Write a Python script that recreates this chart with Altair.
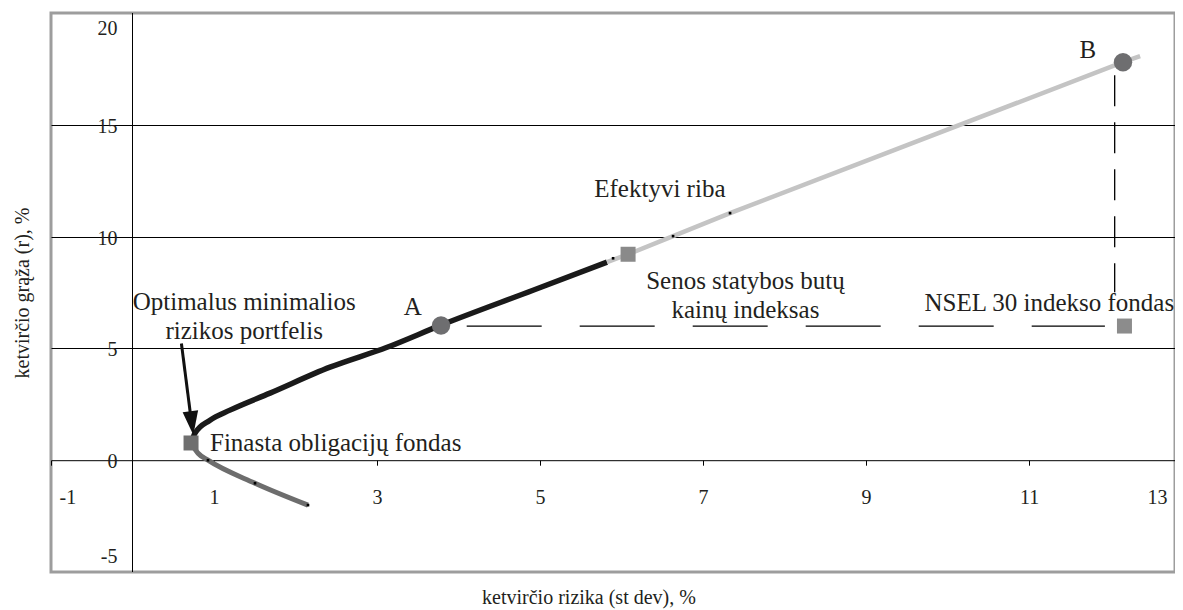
import altair as alt
import pandas as pd

FONT = "Liberation Serif"
TXT = "#231f20"

# ---- data ----
# efficient frontier (black part, from Finasta to Senos statybos)
front_x = [0.718, 0.767, 0.951, 1.196, 1.687, 2.423, 3.123, 3.785, 4.914, 5.822]
front_y = [0.76, 1.21, 1.79, 2.24, 3.00, 4.16, 5.05, 6.04, 7.60, 8.86]
# lower (inefficient) branch
low_x = [0.718, 0.804, 0.926, 1.503, 2.153]
low_y = [0.76, 0.31, 0.00, -1.03, -2.01]
low_mark_x = [0.926, 1.503, 2.153]
low_mark_y = [0.00, -1.03, -2.01]
# extension (light gray) towards B
ext_x = [5.822, 6.08, 6.632, 7.331, 12.152, 12.362]
ext_y = [8.86, 9.21, 10.02, 11.05, 17.80, 18.07]
ext_mark_x = [5.896, 6.632, 7.331]
ext_mark_y = [9.03, 10.02, 11.05]

# portfolios A and B
circ_x = [3.785, 12.152]
circ_y = [6.02, 17.80]
# assets
sq_names = ["Finasta obligacijų fondas", "Senos statybos butų kainų indeksas", "NSEL 30 indekso fondas"]
sq_x = [0.718, 6.08, 12.17]
sq_y = [0.77, 9.21, 6.00]

# dashed reference lines
hdash_x, hdash_x2, hdash_y = [4.10], [11.93], [6.0]
vdash_x, vdash_y, vdash_y2 = [12.05], [17.22], [7.51]

# arrow to the minimum-risk portfolio
arrow_x, arrow_y, arrow_x2, arrow_y2 = [0.60], [5.22], [0.713], [2.0]
head_x, head_y = [0.728], [1.655]

# annotations
lab_c_text = ["Optimalus minimalios\nrizikos portfelis", "Efektyvi riba",
              "Senos statybos butų\nkainų indeksas", "A", "B"]
lab_c_x = [1.37, 6.47, 7.52, 3.44, 11.72]
lab_c_y = [7.07, 12.12, 8.0, 6.84, 18.34]
lab_l_text = ["Finasta obligacijų fondas"]
lab_l_x = [0.951]
lab_l_y = [0.76]
lab_r_text = ["NSEL 30 indekso fondas"]
lab_r_x = [12.78]
lab_r_y = [7.02]

# axes
X_MAX = 12.79
x_tick_vals = [-1, 1, 3, 5, 7, 9, 11, X_MAX]
y_tick_vals = [-5, 0, 5, 10, 15, 20]
y_tick_text = ["-5", "0", "5", "10", "15", "20"]
y_grid_vals = [5, 10, 15]

X_TITLE = "ketvirčio rizika (st dev), %"
Y_TITLE = "ketvirčio grąža (r), %"

# ---- chart ----
W, H = 1124, 559
xs = alt.Scale(domain=[-1, X_MAX], nice=False, zero=False)
ys = alt.Scale(domain=[-5, 20], nice=False, zero=False)

xaxis = alt.Axis(values=x_tick_vals,
                 labelExpr="datum.value > 12 ? '13' : '' + datum.value",
                 offset=-H * 5 / 25, tickSize=5, tickColor="black", tickWidth=1,
                 domainColor="black", domainWidth=1, grid=False,
                 labelPadding=22, labelFontSize=20, labelColor=TXT,
                 labelFlush=True, labelFlushOffset=-8, title=None)
yaxis = alt.Axis(values=y_grid_vals, grid=True, gridColor="black", gridWidth=1,
                 labels=False, ticks=False, domain=False, title=Y_TITLE,
                 titlePadding=19, titleFontSize=20, titleFontWeight="normal",
                 titleColor=TXT)


def X(f):
    return alt.X(f, type="quantitative", scale=xs, axis=xaxis)


def Y(f):
    return alt.Y(f, type="quantitative", scale=ys, axis=yaxis)


def df(**cols):
    return pd.DataFrame(cols)


yaxis_line = alt.Chart(df(x=[0.0], y=[-5.0], y2=[20.0])).mark_rule(
    color="black", strokeWidth=1).encode(x=X("x"), y=Y("y"), y2="y2")

front = alt.Chart(df(x=front_x, y=front_y, o=list(range(len(front_x))))).mark_line(
    color="#1a1a1a", strokeWidth=5.5, interpolate="monotone").encode(
    x=X("x"), y=Y("y"), order="o:Q")
low = alt.Chart(df(x=low_x, y=low_y, o=list(range(len(low_x))))).mark_line(
    color="#6d6d6d", strokeWidth=5, interpolate="monotone").encode(
    x=X("x"), y=Y("y"), order="o:Q")
ext = alt.Chart(df(x=ext_x, y=ext_y, o=list(range(len(ext_x))))).mark_line(
    color="#c4c4c4", strokeWidth=4.5).encode(
    x=X("x"), y=Y("y"), order="o:Q")

marks = alt.Chart(df(x=low_mark_x + ext_mark_x, y=low_mark_y + ext_mark_y)).mark_point(
    shape="square", size=7, filled=True, color="black", opacity=1).encode(
    x=X("x"), y=Y("y"))

hdash = alt.Chart(df(x=hdash_x, x2=hdash_x2, y=hdash_y)).mark_rule(
    color="black", strokeWidth=1.3, strokeDash=[75, 38]).encode(
    x=X("x"), x2="x2", y=Y("y"))
vdash = alt.Chart(df(x=vdash_x, y=vdash_y, y2=vdash_y2)).mark_rule(
    color="black", strokeWidth=1.3, strokeDash=[31, 16]).encode(
    x=X("x"), y=Y("y"), y2="y2")

arrow = alt.Chart(df(x=arrow_x, y=arrow_y, x2=arrow_x2, y2=arrow_y2)).mark_rule(
    color="#111111", strokeWidth=3).encode(x=X("x"), y=Y("y"), x2="x2", y2="y2")
head = alt.Chart(df(x=head_x, y=head_y)).mark_point(
    shape="M-0.65,-1L0.65,-1L0,1Z", size=576, filled=True, color="#111111",
    opacity=1, angle=353).encode(x=X("x"), y=Y("y"))

circles = alt.Chart(df(x=circ_x, y=circ_y)).mark_circle(
    size=340, color="#6e6e70", opacity=1).encode(x=X("x"), y=Y("y"))
squares = alt.Chart(df(name=sq_names, x=sq_x, y=sq_y)).mark_square(
    size=225, opacity=1).encode(
    x=X("x"), y=Y("y"),
    color=alt.Color("name:N", legend=None,
                    scale=alt.Scale(domain=sq_names, range=["#6f6f6f", "#8a8a8a", "#8c8c8c"])))

txt_kw = dict(font=FONT, fontSize=25, color=TXT, baseline="middle",
              lineBreak="\n", lineHeight=29)
lab_c = alt.Chart(df(t=lab_c_text, x=lab_c_x, y=lab_c_y)).mark_text(
    align="center", **txt_kw).encode(x=X("x"), y=Y("y"), text="t:N")
lab_l = alt.Chart(df(t=lab_l_text, x=lab_l_x, y=lab_l_y)).mark_text(
    align="left", **txt_kw).encode(x=X("x"), y=Y("y"), text="t:N")
lab_r = alt.Chart(df(t=lab_r_text, x=lab_r_x, y=lab_r_y)).mark_text(
    align="right", **txt_kw).encode(x=X("x"), y=Y("y"), text="t:N")

ylab_df = df(v=y_tick_vals, t=y_tick_text, x=[0.0] * len(y_tick_vals))
ykw = dict(font=FONT, fontSize=20, color=TXT, align="right", baseline="middle", dx=-15)
ylab_mid = alt.Chart(ylab_df).transform_filter("datum.v > -5 && datum.v < 20").mark_text(
    dy=2, **ykw).encode(x=X("x"), y=Y("v"), text="t:N")
ylab_top = alt.Chart(ylab_df).transform_filter("datum.v == 20").mark_text(
    dy=16, **ykw).encode(x=X("x"), y=Y("v"), text="t:N")
ylab_bot = alt.Chart(ylab_df).transform_filter("datum.v == -5").mark_text(
    dy=-15, **ykw).encode(x=X("x"), y=Y("v"), text="t:N")

chart = alt.layer(
    yaxis_line, hdash, vdash, low, front, ext, marks, arrow, head,
    circles, squares, lab_c, lab_l, lab_r, ylab_mid, ylab_top, ylab_bot
).properties(
    width=W, height=H,
    autosize=alt.AutoSizeParams(type="none"),
    padding={"left": 43, "top": 5, "right": 0, "bottom": 37},
    title=alt.TitleParams(X_TITLE, orient="bottom", anchor="middle", fontSize=20,
                          fontWeight="normal", font=FONT, color=TXT, offset=15, dx=-24),
    background="white",
).configure_view(
    stroke="#9d9d9d", strokeWidth=3
).configure_axis(
    labelFont=FONT, titleFont=FONT
)

chart.save("out.html", embed_options={"renderer": "svg", "actions": False})
